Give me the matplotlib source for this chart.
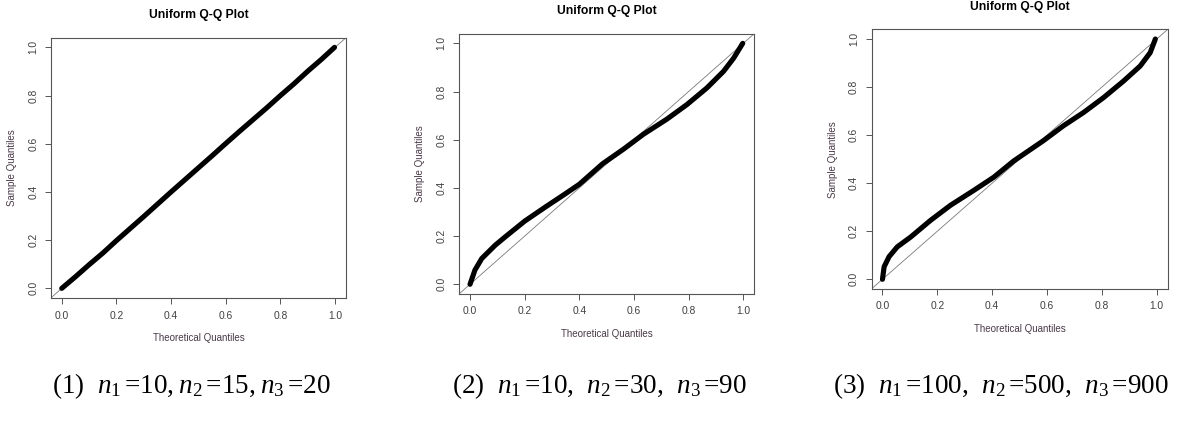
import matplotlib
matplotlib.use("Agg")
import matplotlib.pyplot as plt

plt.rcParams['font.family'] = ['Liberation Sans', 'DejaVu Sans']
plt.rcParams['mathtext.fontset'] = 'custom'
plt.rcParams['mathtext.rm'] = 'Liberation Serif'
plt.rcParams['mathtext.it'] = 'Liberation Serif:italic'

# Q-Q curve points (theoretical, sample)
theo_1 = [0.0, 0.05, 0.1, 0.15, 0.2, 0.25, 0.3, 0.35, 0.4, 0.45, 0.5,
          0.55, 0.6, 0.65, 0.7, 0.75, 0.8, 0.85, 0.9, 0.95, 0.998]
samp_1 = [0.0, 0.048, 0.098, 0.146, 0.198, 0.248, 0.298, 0.349, 0.400, 0.450, 0.500,
          0.550, 0.601, 0.651, 0.700, 0.749, 0.800, 0.849, 0.901, 0.950, 1.0]

theo_2 = [0.0, 0.018, 0.043, 0.092, 0.128, 0.2, 0.275, 0.348, 0.4, 0.485,
          0.562, 0.635, 0.72, 0.794, 0.867, 0.928, 0.965, 0.998]
samp_2 = [0.0, 0.059, 0.107, 0.162, 0.196, 0.262, 0.32, 0.375, 0.415, 0.5,
          0.561, 0.623, 0.685, 0.746, 0.815, 0.884, 0.939, 1.0]

theo_3 = [0.0, 0.006, 0.024, 0.054, 0.103, 0.175, 0.248, 0.333, 0.406, 0.478,
          0.587, 0.66, 0.733, 0.806, 0.879, 0.94, 0.976, 0.995]
samp_3 = [0.0, 0.052, 0.094, 0.135, 0.176, 0.245, 0.308, 0.37, 0.425, 0.492,
          0.577, 0.639, 0.694, 0.756, 0.825, 0.888, 0.943, 1.0]

ticks = [0.0, 0.2, 0.4, 0.6, 0.8, 1.0]
tick_labels = ["0.0", "0.2", "0.4", "0.6", "0.8", "1.0"]

captions = [r"(1)  $n_{1}\,$=10,$\;n_{2}\,$=15,$\;n_{3}\,$=20",
            r"(2)  $n_{1}\,$=10,  $n_{2}\,$=30,  $n_{3}\,$=90",
            r"(3)  $n_{1}\,$=100,  $n_{2}\,$=500,  $n_{3}\,$=900"]

W, H = 1179, 423
# axes boxes in pixels: left, top, right, bottom
boxes = [(50.8, 37.7, 346.0, 298.0),
         (459.1, 33.7, 754.2, 293.9),
         (871.5, 29.4, 1167.7, 288.9)]
caption_x = [52, 452, 833]

fig = plt.figure(figsize=(W / 100, H / 100), dpi=100)

data = [(theo_1, samp_1), (theo_2, samp_2), (theo_3, samp_3)]
for (l, t, r, b), (tx, sy) in zip(boxes, data):
    ax = fig.add_axes([l / W, 1 - b / H, (r - l) / W, (b - t) / H])
    ax.set_xlim(-0.04, 1.04)
    ax.set_ylim(-0.04, 1.04)
    ax.axline((0, 0), slope=1, color='#7a7a7a', lw=0.6)
    ax.plot(tx, sy, color='black', lw=3.7, solid_capstyle='round',
            solid_joinstyle='round')
    ax.set_xticks(ticks)
    ax.set_xticklabels(tick_labels)
    ax.set_yticks(ticks)
    ax.set_yticklabels(tick_labels)
    ax.tick_params(length=4, width=0.7, color='#555555', labelsize=7.4,
                   labelcolor='#404040', pad=5)
    for lab in ax.get_yticklabels():
        lab.set_rotation(90)
        lab.set_va('center')
    for s in ax.spines.values():
        s.set_color('#555555')
        s.set_linewidth(0.8)
    ax.set_xlabel("Theoretical Quantiles", fontsize=7, color='#4a3a48', labelpad=9)
    ax.set_ylabel("Sample Quantiles", fontsize=7, color='#4a3a48', labelpad=8)
    ax.set_title("Uniform Q-Q Plot", fontsize=8.7, fontweight='bold', pad=14)

for cx, cap in zip(caption_x, captions):
    fig.text(cx / W, 1 - 386 / H, cap, fontsize=19.5, family='Liberation Serif',
             ha='left', va='center')

fig.savefig("out.png", dpi=100)
